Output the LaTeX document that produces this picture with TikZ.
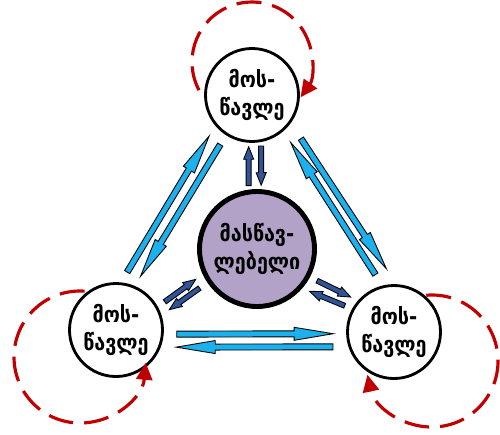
\documentclass[tikz,border=0pt]{standalone}
\usepackage{fontspec}
\newfontfamily\geofont{DejaVu Sans Condensed}
\usetikzlibrary{calc,arrows.meta}

\definecolor{lightflow}{HTML}{1CB0EC}
\definecolor{darkflow}{HTML}{2F5597}
\definecolor{loopred}{HTML}{C00000}
\definecolor{teacherfill}{HTML}{B3A2C7}

\tikzset{
  flow gap/.store in=\flowgap, flow body/.store in=\flowbody,
  flow wing/.store in=\flowwing, flow head/.store in=\flowhead,
  flow gap=0.24cm,
  % block arrow drawn as a closed outline between two anchors
  flow/.style={draw=black, line width=0.5pt, to path={
    let \p1=($(\tikztotarget)-(\tikztostart)$),
        \n1={atan2(\y1,\x1)},
        \n2={veclen(\x1,\y1)-2*\flowgap} in
    ($(\tikztostart)+(\n1:\flowgap)+(\n1+90:\flowbody)$)
    -- ($(\tikztostart)+(\n1:{\flowgap+\n2-\flowhead})+(\n1+90:\flowbody)$)
    -- ($(\tikztostart)+(\n1:{\flowgap+\n2-\flowhead})+(\n1+90:\flowwing)$)
    -- ($(\tikztostart)+(\n1:{\flowgap+\n2})$)
    -- ($(\tikztostart)+(\n1:{\flowgap+\n2-\flowhead})+(\n1-90:\flowwing)$)
    -- ($(\tikztostart)+(\n1:{\flowgap+\n2-\flowhead})+(\n1-90:\flowbody)$)
    -- ($(\tikztostart)+(\n1:\flowgap)+(\n1-90:\flowbody)$)
    -- cycle}},
  peerflow/.style={flow, fill=lightflow, flow body=0.06cm, flow wing=0.13cm, flow head=0.78cm},
  teachflow/.style={flow, fill=darkflow, flow body=0.05cm, flow wing=0.1cm, flow head=0.25cm},
  learner/.style={circle, draw, line width=1.6pt, fill=white, minimum size=1.86cm,
    inner sep=0pt, align=center, font=\geofont\bfseries\fontsize{12.5}{16}\selectfont},
  teacher/.style={learner, fill=teacherfill, line width=2.8pt, minimum size=2.3cm},
  selfloop/.style={draw=loopred, line width=1.8pt, dash pattern=on 0.5cm off 0.22cm,
    -{Triangle[length=0.34cm, width=0.32cm]}}
}

\begin{document}
\begin{tikzpicture}
\useasboundingbox (0,0) rectangle (10,8.68);

% pupils and teacher
\node[learner] (top) at (5.04,6.78) {მოს-\\წავლე};
\node[learner] (left) at (2.32,2.08) {მოს-\\წავლე};
\node[learner] (right) at (7.88,2.04) {მოს-\\წავლე};
\node[teacher] (center) at (5.14,3.70) {მასწავ-\\ლებელი};

% self loops
\coordinate (toploop) at ($(top)+(0,0.66)$);
\coordinate (leftloop) at ($(left)+(-0.72,-0.54)$);
\coordinate (rightloop) at ($(right)+(0.76,-0.58)$);
\draw[selfloop] ($(toploop)+(208:1.2)$) arc[start angle=208, end angle=-36, radius=1.2];
\draw[selfloop] ($(leftloop)+(86:1.32)$) arc[start angle=86, end angle=355, radius=1.32];
\draw[selfloop] ($(rightloop)+(95:1.32)$) arc[start angle=95, end angle=-168, radius=1.32];

% pupil to pupil
\draw[peerflow] (left.84) to (top.220);
\draw[peerflow, flow gap=0.22cm] (top.237) to (left.67);
\draw[peerflow, flow gap=0.37cm] (top.324) to (right.87);
\draw[peerflow, flow gap=0.26cm] (right.104) to (top.311);
\draw[peerflow, flow gap=0.26cm] (left.-5) to (right.182);
\draw[peerflow, flow gap=0.31cm] (right.198) to (left.-21);

% teacher and pupils
\draw[teachflow, flow gap=0.08cm] (center.98) to (top.266);
\draw[teachflow, flow gap=0.08cm] (top.281) to (center.86);
\draw[teachflow, flow gap=0.17cm] (left.29) to (center.205);
\draw[teachflow, flow gap=0.19cm] (center.214) to (left.18);
\draw[teachflow, flow gap=0.16cm] (center.332) to (right.139);
\draw[teachflow, flow gap=0.16cm] (right.151) to (center.319);
\end{tikzpicture}
\end{document}
